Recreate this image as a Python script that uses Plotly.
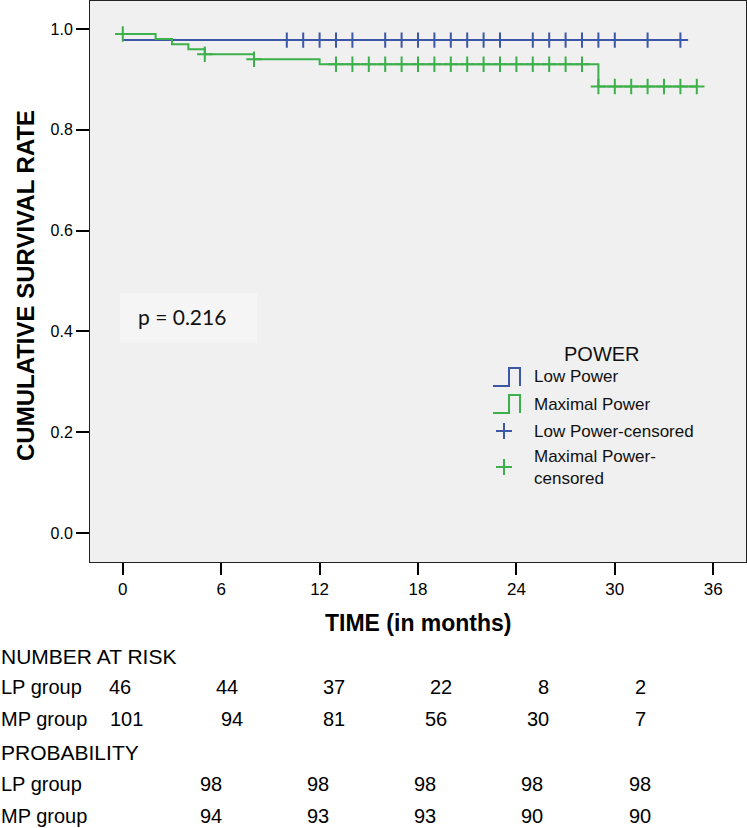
import plotly.graph_objects as go

# Kaplan-Meier data
lp_times = [0, 34]
lp_surv = [0.978, 0.978]
lp_censored = [10, 11, 12, 13, 14, 16, 17, 18, 19, 20, 21, 22, 23, 25, 26, 27, 28, 29, 30, 32, 34]

mp_times = [0, 2, 3, 4, 5, 8, 12, 29, 35]
mp_surv = [0.990, 0.980, 0.970, 0.960, 0.950, 0.940, 0.930, 0.886, 0.886]
mp_censored = [0, 5, 8, 13, 14, 15, 16, 17, 18, 19, 20, 21, 22, 23, 24, 25, 26, 27, 28, 29, 30, 31, 32, 33, 34, 35]

x_ticks = [0, 6, 12, 18, 24, 30, 36]
y_ticks = [0.0, 0.2, 0.4, 0.6, 0.8, 1.0]

risk_lp = [46, 44, 37, 22, 8, 2]
risk_mp = [101, 94, 81, 56, 30, 7]
prob_lp = [98, 98, 98, 98, 98]
prob_mp = [94, 93, 93, 90, 90]
p_text = "p = 0.216"

BLUE = "#3d57a7"
GREEN = "#3cb04a"
FONT = "Liberation Sans, Arial, sans-serif"

# plot area in pixels
X0, X1, Y0, Y1 = 90, 746, 1, 562


def px(x):
    return (x - X0) / (X1 - X0)


def py(y):
    return (Y1 - y) / (Y1 - Y0)


def surv_at(times, surv, t):
    val = surv[0]
    for tt, s in zip(times, surv):
        if tt <= t:
            val = s
    return val


fig = go.Figure()

fig.add_trace(go.Scatter(x=lp_times, y=lp_surv, mode="lines", line=dict(color=BLUE, width=2, shape="hv"),
                         name="Low Power"))
fig.add_trace(go.Scatter(x=mp_times, y=mp_surv, mode="lines", line=dict(color=GREEN, width=2, shape="hv"),
                         name="Maximal Power"))
fig.add_trace(go.Scatter(x=lp_censored, y=[surv_at(lp_times, lp_surv, t) for t in lp_censored],
                         mode="markers", marker=dict(symbol="cross-thin", size=11, line=dict(color=BLUE, width=2)),
                         name="Low Power-censored"))
fig.add_trace(go.Scatter(x=mp_censored, y=[surv_at(mp_times, mp_surv, t) for t in mp_censored],
                         mode="markers", marker=dict(symbol="cross-thin", size=11, line=dict(color=GREEN, width=2)),
                         name="Maximal Power-censored"))

shapes = []
annotations = []

# p-value box
shapes.append(dict(type="rect", xref="paper", yref="paper", x0=px(120), x1=px(257), y0=py(343), y1=py(293),
                   fillcolor="#f5f5f5", line=dict(width=0), layer="below"))
annotations.append(dict(text=p_text, xref="paper", yref="paper", x=px(136), y=py(316), xanchor="left",
                        yanchor="middle", showarrow=False, font=dict(family="Lato, " + FONT, size=21, color="#111")))

# custom legend
annotations.append(dict(text="POWER", xref="paper", yref="paper", x=px(602), y=py(354), xanchor="center",
                        yanchor="middle", showarrow=False, font=dict(family=FONT, size=20, color="#111")))
legend_rows = [("Low Power", BLUE, "step", 377), ("Maximal Power", GREEN, "step", 404),
               ("Low Power-censored", BLUE, "cross", 431), ("Maximal Power-<br>censored", GREEN, "cross", 467)]
for label, color, kind, yc in legend_rows:
    if kind == "step":
        path = "M {a},{b} L {c},{b} L {c},{d} L {e},{d} L {e},{b}".format(
            a=px(493), b=py(yc + 9), c=px(509), d=py(yc - 9), e=px(520))
    else:
        path = "M {a},{b} L {c},{b} M {d},{e} L {d},{f}".format(
            a=px(496), b=py(yc), c=px(512), d=px(504), e=py(yc - 8), f=py(yc + 8))
    shapes.append(dict(type="path", xref="paper", yref="paper", path=path, line=dict(color=color, width=2)))
    annotations.append(dict(text=label, xref="paper", yref="paper", x=px(532), y=py(yc), xanchor="left",
                            yanchor="middle", align="left", showarrow=False,
                            font=dict(family=FONT, size=17, color="#111")))

# axis titles
annotations.append(dict(text="<b>CUMULATIVE SURVIVAL RATE</b>", xref="paper", yref="paper", x=px(25), y=py(286),
                        textangle=-90, xanchor="center", yanchor="middle", showarrow=False,
                        font=dict(family=FONT, size=24, color="#000")))
annotations.append(dict(text="<b>TIME (in months)</b>", xref="paper", yref="paper", x=px(418), y=py(623),
                        xanchor="center", yanchor="middle", showarrow=False,
                        font=dict(family=FONT, size=23, color="#000")))


# number at risk / probability table
def txt(s, x, y, anchor="center", size=20):
    annotations.append(dict(text=str(s), xref="paper", yref="paper", x=px(x), y=py(y), xanchor=anchor,
                            yanchor="middle", showarrow=False, borderpad=0,
                            font=dict(family=FONT, size=size, color="#000")))


txt("NUMBER AT RISK", 0, 656, "left", 21)
txt("LP group", 0, 687, "left")
txt("MP group", 0, 719, "left")
txt("PROBABILITY", 0, 752, "left", 21)
txt("LP group", 0, 784, "left")
txt("MP group", 0, 816, "left")

risk_lp_x = [120, 227, 334, 441, 543, 640]
risk_mp_x = [126, 232, 334, 436, 538, 640]
prob_x = [211, 318, 425, 532, 640]
for v, x in zip(risk_lp, risk_lp_x):
    txt(v, x, 687)
for v, x in zip(risk_mp, risk_mp_x):
    txt(v, x, 719)
for v, x in zip(prob_lp, prob_x):
    txt(v, x, 784)
for v, x in zip(prob_mp, prob_x):
    txt(v, x, 816)

fig.update_layout(
    width=747, height=828,
    margin=dict(l=X0, r=747 - X1, t=Y0, b=828 - Y1),
    paper_bgcolor="white", plot_bgcolor="#f0f0f0",
    showlegend=False,
    shapes=shapes, annotations=annotations,
    font=dict(family=FONT, color="#000"),
)
fig.update_xaxes(range=[-2.0, 38.0], tickvals=x_ticks, ticks="outside", ticklen=12, tickwidth=2,
                 tickcolor="#000", showgrid=False, zeroline=False, showline=True, linecolor="#222",
                 linewidth=1, mirror=True, tickfont=dict(size=17))
fig.update_yaxes(range=[-0.0575, 1.0556], tickvals=y_ticks, tickformat=".1f", ticks="outside", ticklen=13,
                 tickwidth=2, tickcolor="#000", showgrid=False, zeroline=False, showline=True,
                 linecolor="#222", linewidth=1, mirror=True, tickfont=dict(size=16))

# the page's default 8px body margin would push the figure off the bottom edge
fig.write_html("out.html", config={"displayModeBar": False},
               post_script="document.body.style.margin = '0';")
